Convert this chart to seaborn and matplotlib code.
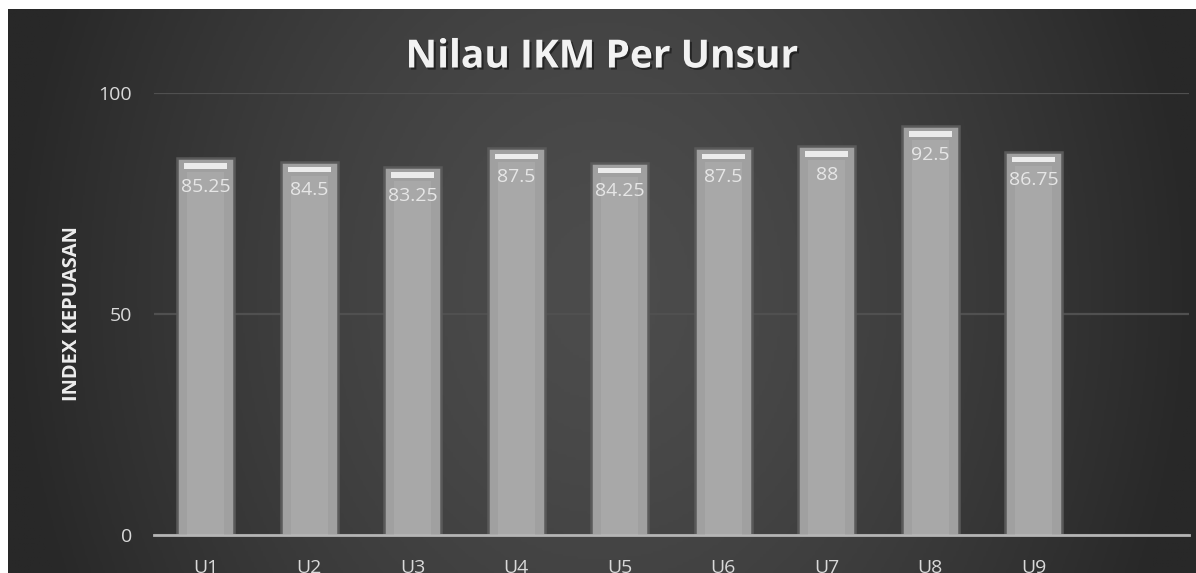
import numpy as np
import pandas as pd
import matplotlib
matplotlib.use('Agg')
import matplotlib.pyplot as plt
import matplotlib.patheffects as pe
from matplotlib.colors import LinearSegmentedColormap
import seaborn as sns

units = ['U1', 'U2', 'U3', 'U4', 'U5', 'U6', 'U7', 'U8', 'U9']
values = [85.25, 84.5, 83.25, 87.5, 84.25, 87.5, 88, 92.5, 86.75]
y_ticks = [0, 50, 100]
title = 'Nilau IKM Per Unsur'
y_label = 'INDEX KEPUASAN'


def draw_chart():
    sns.set_theme(style='white')
    plt.rcParams['font.family'] = ['Open Sans', 'DejaVu Sans']

    W, H = 1196, 573
    fig = plt.figure(figsize=(W / 100, H / 100), dpi=100)
    fig.patch.set_facecolor('white')

    # dark radial background of the chart area
    bg = fig.add_axes([8 / W, 0, 1 - 8 / W, 1 - 9 / H], zorder=-1)
    gx, gy = np.meshgrid(np.linspace(0, 1, 400), np.linspace(0, 1, 200))
    d = np.sqrt(((gx - 0.5) / 0.5) ** 2 + ((gy - 0.5) / 1.3) ** 2)
    grad = 1 - np.clip(d, 0, 1) ** 1.5
    cmap = LinearSegmentedColormap.from_list('bg', ['#282828', '#4c4c4c'])
    bg.imshow(grad, cmap=cmap, aspect='auto', extent=[0, 1, 0, 1], vmin=0, vmax=1)
    bg.axis('off')

    ax = fig.add_axes([154 / W, 1 - 535 / H, (1189 - 154) / W, (535 - 93) / H])
    ax.patch.set_alpha(0)

    df = pd.DataFrame({'unit': units, 'value': values})
    sns.barplot(data=df, x='unit', y='value', color='#a0a0a0', width=0.55,
                edgecolor='#5a5a5a', linewidth=1.8, saturation=1, ax=ax, zorder=3)

    pos = np.arange(len(units))
    # lighter core and white highlight at the top of each bar
    ax.bar(pos, np.array(values) - 3.2, width=0.36, color='#a8a8a8',
           edgecolor='none', linewidth=0, zorder=4)
    ax.bar(pos, 1.2, bottom=np.array(values) - 2.4, width=0.42,
           color='#ececec', edgecolor='none', linewidth=0, zorder=5)

    for i, v in enumerate(values):
        ax.text(i, v - 6.5, f'{v:g}', ha='center', va='center',
                color='#e6e6e6', fontsize=14, zorder=6)

    ax.set_xlim(-0.5, 9.5)
    ax.set_ylim(0, 100)
    ax.set_yticks(y_ticks)
    ax.yaxis.grid(True, color='#505050', linewidth=1.6, zorder=0)
    ax.set_axisbelow(True)
    for s in ['top', 'right', 'left']:
        ax.spines[s].set_visible(False)
    ax.spines['bottom'].set_color('#b5b5b5')
    ax.spines['bottom'].set_linewidth(2)
    ax.spines['bottom'].set_zorder(7)

    ax.tick_params(axis='both', length=0, labelsize=14, colors='#d9d9d9')
    ax.tick_params(axis='y', pad=16)
    ax.tick_params(axis='x', pad=17)
    ax.set_xlabel('')
    ax.set_ylabel(y_label, color='#ededed', fontsize=14.5, fontweight='bold')
    ax.yaxis.set_label_coords(-0.0696, 0.5)

    fig.text(0.503, 1 - 57 / H, title, ha='center', va='center',
             color='#f2f2f2', fontsize=28, fontweight='bold',
             path_effects=[pe.withSimplePatchShadow(offset=(1.5, -1.5),
                                                    shadow_rgbFace='#111111',
                                                    alpha=0.6)])

    plt.savefig('out.png', dpi=100)
    plt.close()


if __name__ == '__main__':
    draw_chart()
